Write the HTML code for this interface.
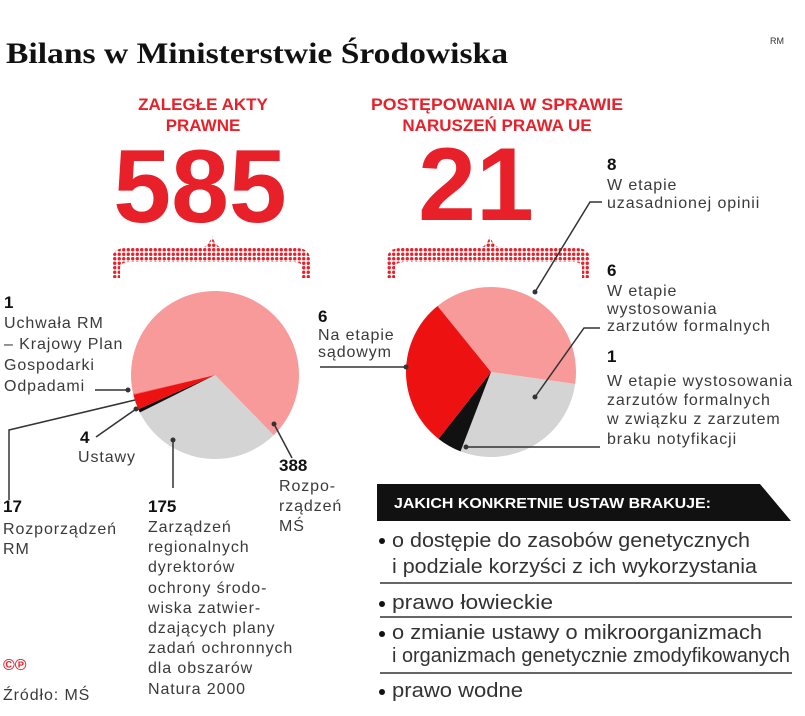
<!DOCTYPE html>
<html><head><meta charset="utf-8"><style>
body{margin:0;background:#fff;}
svg{display:block;font-family:"Liberation Sans",sans-serif;}
.lb{font-size:16px;fill:#3a3a3a;letter-spacing:0.9px;}
.num{font-size:17px;font-weight:bold;fill:#111;}
.bl{font-size:20px;fill:#333;}
</style></head><body>
<svg width="805" height="716" viewBox="0 0 805 716">
<defs>
<pattern id="dots" width="4.5" height="4.5" patternUnits="userSpaceOnUse"><circle cx="2.25" cy="2.25" r="1.7" fill="#e8202a"/></pattern>
</defs>
<text x="6" y="63" font-family="Liberation Serif,serif" font-weight="bold" font-size="30" fill="#111" textLength="502" lengthAdjust="spacingAndGlyphs">Bilans w Ministerstwie Środowiska</text>
<text x="770" y="44" font-size="9" fill="#333">RM</text>

<g fill="#e8202a" font-weight="bold" text-anchor="middle">
<text x="203" y="110" font-size="17">ZALEGŁE AKTY</text>
<text x="203" y="131" font-size="17">PRAWNE</text>
<text x="200" y="222" font-size="104">585</text>
<text x="497" y="110" font-size="17" textLength="252" lengthAdjust="spacingAndGlyphs">POSTĘPOWANIA W SPRAWIE</text>
<text x="497" y="131" font-size="17">NARUSZEŃ PRAWA UE</text>
<text x="476" y="220" font-size="104">21</text>
</g>

<g>
<path d="M112,278 L112,260 Q112,248 126,248 L200,248 Q208,248 212,236 Q216,248 224,248 L296,248 Q310,248 310,260 L310,278 L302,278 L302,266 Q300,262 294,262 L130,262 Q120,262 120,268 L120,278 Z" fill="url(#dots)"/>
<path d="M387,278 L387,260 Q387,248 401,248 L478,248 Q486,248 490,236 Q494,248 502,248 L576,248 Q590,248 590,260 L590,278 L582,278 L582,266 Q580,262 574,262 L405,262 Q395,262 395,268 L395,278 Z" fill="url(#dots)"/>
</g>

<g id="pieL"></g>
<g id="pieR"></g>

<g stroke="#333" stroke-width="1.5" fill="none">
<polyline points="95,390 128,390"/>
<polyline points="96,437 136,409"/>
<polyline points="9,500 9,430 135,400"/>
<polyline points="173,488 173,440"/>
<polyline points="292,458 274,424"/>
<polyline points="320,367 406,367"/>
<polyline points="602,202 590,202 535,292"/>
<polyline points="600,328 584,328 535,397"/>
<polyline points="600,447 466,447"/>
</g>
<g fill="#333">
<circle cx="128" cy="390" r="2.5"/><circle cx="136" cy="409" r="2.5"/><circle cx="173" cy="440" r="2.5"/><circle cx="274" cy="424" r="2.5"/><circle cx="406" cy="367" r="2.5"/><circle cx="535" cy="292" r="2.5"/><circle cx="535" cy="397" r="2.5"/><circle cx="466" cy="447" r="2.5"/>
</g>

<g>
<text class="num" x="4" y="308">1</text>
<text class="lb" x="4" y="328">Uchwała RM</text>
<text class="lb" x="4" y="349">– Krajowy Plan</text>
<text class="lb" x="4" y="370">Gospodarki</text>
<text class="lb" x="4" y="391">Odpadami</text>
<text class="num" x="80" y="443">4</text>
<text class="lb" x="78" y="462">Ustawy</text>
<text class="num" x="3" y="512">17</text>
<text class="lb" x="3" y="534">Rozporządzeń</text>
<text class="lb" x="3" y="554">RM</text>
<text class="num" x="148" y="512">175</text>
<text class="lb" x="148" y="532">Zarządzeń</text>
<text class="lb" x="148" y="552">regionalnych</text>
<text class="lb" x="148" y="572">dyrektorów</text>
<text class="lb" x="148" y="593">ochrony środo-</text>
<text class="lb" x="148" y="613">wiska zatwier-</text>
<text class="lb" x="148" y="633">dzających plany</text>
<text class="lb" x="148" y="653">zadań ochronnych</text>
<text class="lb" x="148" y="673">dla obszarów</text>
<text class="lb" x="148" y="694">Natura 2000</text>
<text class="num" x="279" y="471">388</text>
<text class="lb" x="279" y="491">Rozpo-</text>
<text class="lb" x="279" y="511">rządzeń</text>
<text class="lb" x="279" y="531">MŚ</text>
<text x="3" y="670" font-size="16" font-weight="bold" fill="#e8202a">©℗</text>
<text class="lb" x="3" y="700" fill="#111">Źródło: MŚ</text>
</g>

<g>
<text class="num" x="318" y="322">6</text>
<text class="lb" x="318" y="340">Na etapie</text>
<text class="lb" x="318" y="357">sądowym</text>
<text class="num" x="607" y="170">8</text>
<text class="lb" x="607" y="190">W etapie</text>
<text class="lb" x="607" y="208">uzasadnionej opinii</text>
<text class="num" x="607" y="276">6</text>
<text class="lb" x="607" y="296">W etapie</text>
<text class="lb" x="607" y="314">wystosowania</text>
<text class="lb" x="607" y="331">zarzutów formalnych</text>
<text class="num" x="607" y="362">1</text>
<text class="lb" x="607" y="386">W etapie wystosowania</text>
<text class="lb" x="607" y="405">zarzutów formalnych</text>
<text class="lb" x="607" y="424">w związku z zarzutem</text>
<text class="lb" x="607" y="444">braku notyfikacji</text>
</g>

<g>
<path d="M377,484 L760,484 L791,521 L377,521 Z" fill="#111"/>
<text x="394" y="508" font-size="15" font-weight="bold" fill="#fff" textLength="317" lengthAdjust="spacingAndGlyphs">JAKICH KONKRETNIE USTAW BRAKUJE:</text>
<g fill="#111"><circle cx="382" cy="541" r="3"/><circle cx="382" cy="604" r="3"/><circle cx="382" cy="634" r="3"/><circle cx="382" cy="692" r="3"/></g>
<text class="bl" x="392" y="547" textLength="358" lengthAdjust="spacingAndGlyphs">o dostępie do zasobów genetycznych</text>
<text class="bl" x="392" y="573" textLength="365" lengthAdjust="spacingAndGlyphs">i podziale korzyści z ich wykorzystania</text>
<text class="bl" x="392" y="609" textLength="161" lengthAdjust="spacingAndGlyphs">prawo łowieckie</text>
<text class="bl" x="392" y="639" textLength="370" lengthAdjust="spacingAndGlyphs">o zmianie ustawy o mikroorganizmach</text>
<text class="bl" x="392" y="662" textLength="398" lengthAdjust="spacingAndGlyphs">i organizmach genetycznie zmodyfikowanych</text>
<text class="bl" x="392" y="697" textLength="131" lengthAdjust="spacingAndGlyphs">prawo wodne</text>
<g stroke="#333" stroke-width="1.5"><line x1="380" y1="583" x2="792" y2="583"/><line x1="380" y1="617" x2="792" y2="617"/><line x1="380" y1="673" x2="792" y2="673"/></g>
</g>
</svg>
<script>
const leftCategories = ["Rozporządzeń MŚ", "Zarządzeń RDOŚ", "Ustawy", "Rozporządzeń RM", "Uchwała RM"];
const leftValues = [388, 175, 4, 17, 1];
const leftColors = ["#f99a9a", "#d4d4d4", "#111111", "#ee1111", "#f06060"];
const rightCategories = ["Uzasadniona opinia", "Zarzuty formalne", "Brak notyfikacji", "Etap sądowy"];
const rightValues = [8, 6, 1, 6];
const rightColors = ["#f99a9a", "#d4d4d4", "#111111", "#ee1111"];
function drawPie(gid, cats, vals, cols, cx, cy, r, startDeg) {
  const g = document.getElementById(gid);
  const total = vals.reduce((a, b) => a + b, 0);
  let a = startDeg * Math.PI / 180;
  vals.forEach((v, i) => {
    const da = v / total * 2 * Math.PI;
    const a2 = a + da;
    const x1 = cx + r * Math.cos(a), y1 = cy + r * Math.sin(a);
    const x2 = cx + r * Math.cos(a2), y2 = cy + r * Math.sin(a2);
    const p = document.createElementNS("http://www.w3.org/2000/svg", "path");
    p.setAttribute("d", `M${cx},${cy} L${x1},${y1} A${r},${r} 0 ${da > Math.PI ? 1 : 0} 1 ${x2},${y2} Z`);
    p.setAttribute("fill", cols[i]);
    
    
    g.appendChild(p);
    a = a2;
  });
}
drawPie("pieL", leftCategories, leftValues, leftColors, 215, 375, 84, 167);
drawPie("pieR", rightCategories, rightValues, rightColors, 491, 372, 85, -129);
</script>
</body></html>
